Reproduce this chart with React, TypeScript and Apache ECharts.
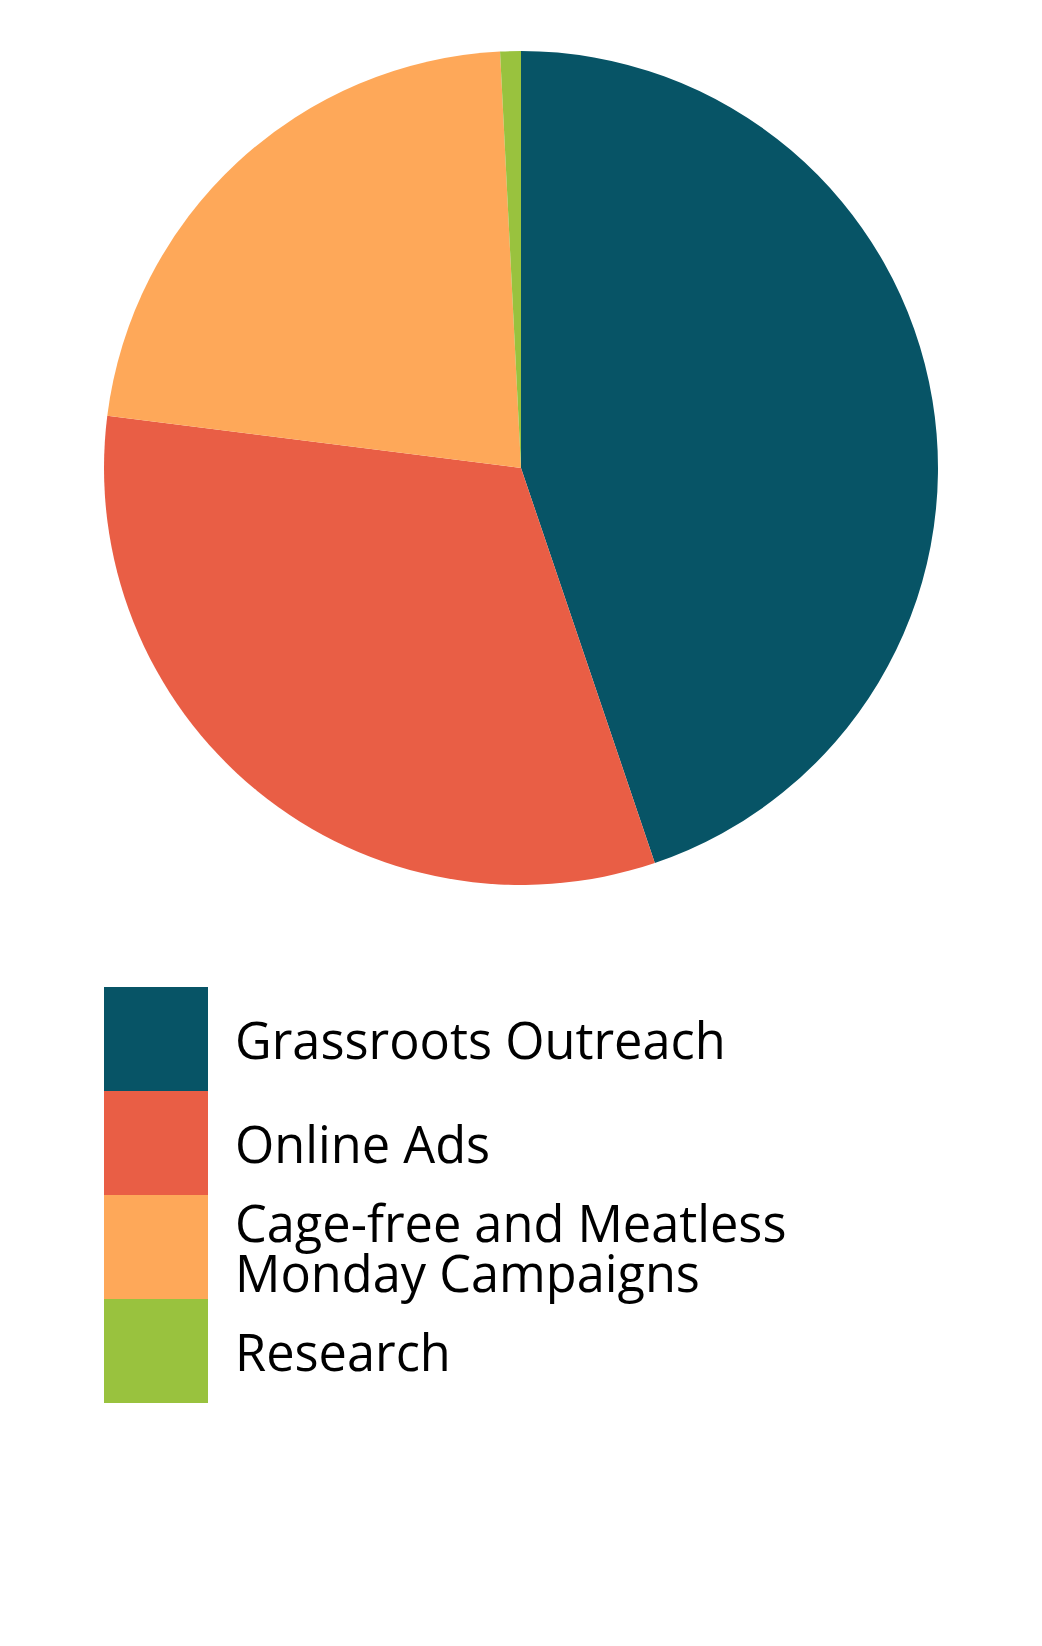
import React, { useEffect, useRef } from "react";
import * as echarts from "echarts";

const categories = [
  "Grassroots Outreach",
  "Online Ads",
  "Cage-free and Meatless\nMonday Campaigns",
  "Research",
];
const values = [44.8, 32.2, 22.2, 0.8];
const colors = ["#075466", "#E95E45", "#FEA859", "#99C23E"];

export default function App() {
  const ref = useRef<HTMLDivElement>(null);
  useEffect(() => {
    if (!ref.current) return;
    const chart = echarts.init(ref.current, undefined, { renderer: "svg" });
    chart.setOption({
      animation: false,
      backgroundColor: "#ffffff",
      color: colors,
      legend: {
        orient: "vertical",
        left: 104,
        top: 987,
        padding: 0,
        itemWidth: 104,
        itemHeight: 104,
        itemGap: 0,
        icon: "rect",
        selectedMode: false,
        data: categories,
        textStyle: {
          fontFamily: "'Open Sans', Lato, sans-serif",
          fontSize: 50.5,
          lineHeight: 50,
          color: "#000000",
          padding: [0, 0, 0, 22],
        },
      },
      series: [
        {
          type: "pie",
          center: [521, 468],
          radius: [0, 417],
          startAngle: 90,
          clockwise: true,
          label: { show: false },
          labelLine: { show: false },
          emphasis: { disabled: true },
          itemStyle: { borderWidth: 0 },
          data: categories.map((name, i) => ({ name, value: values[i] })),
        },
      ],
    });
    return () => chart.dispose();
  }, []);
  return (
    <div
      ref={ref}
      style={{ position: "absolute", left: 0, top: 0, width: 1042, height: 1646 }}
    />
  );
}
